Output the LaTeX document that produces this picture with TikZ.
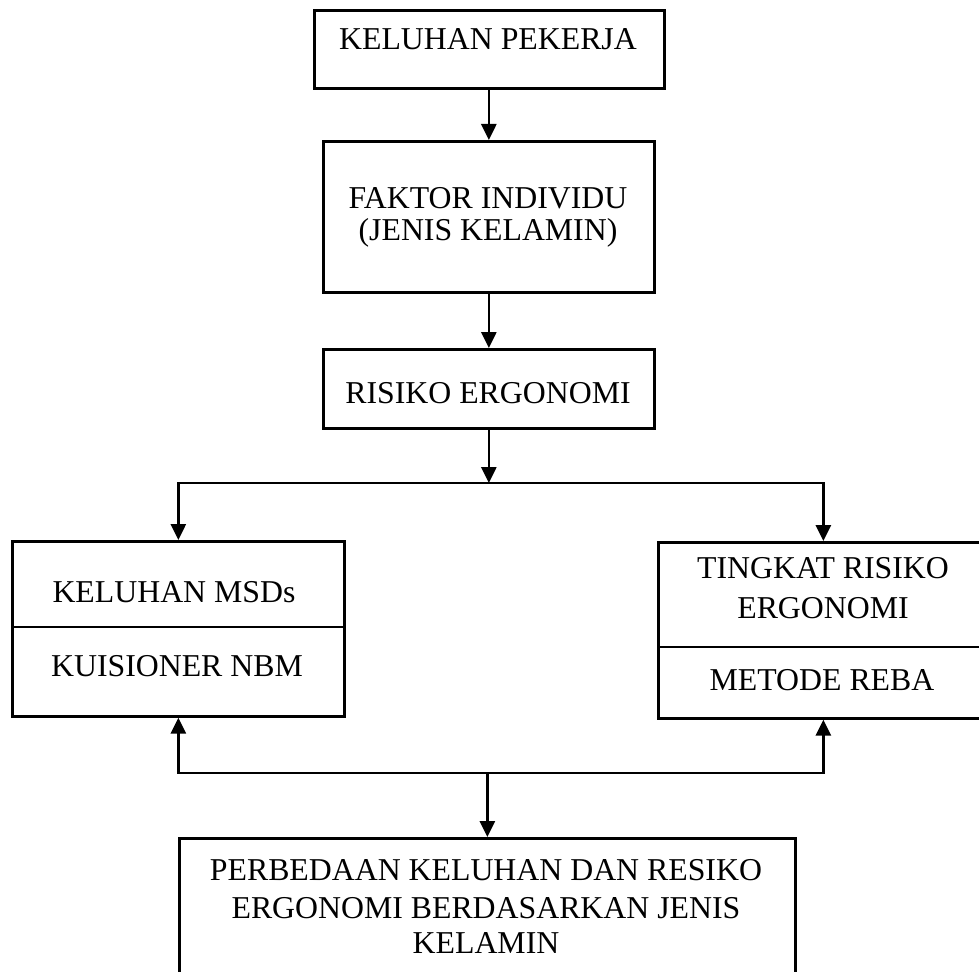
\documentclass[tikz,border=0pt]{standalone}
\usepackage{fontspec}
\setmainfont{Liberation Serif}
\usetikzlibrary{arrows.meta}
\begin{document}
\begin{tikzpicture}[x=1pt,y=-1pt,
  box/.style={draw=black, line width=2.7pt, inner sep=0pt, anchor=north west},
  txt/.style={anchor=base, inner sep=0pt, font=\fontsize{31.8}{37}\selectfont},
  arr/.style={line width=2.7pt, line join=miter, -{Triangle[length=16pt,width=15pt]}},
  divider/.style={line width=2.2pt}]
\useasboundingbox (0,0) rectangle (979,971);
% boxes
\node[box, minimum width=350pt, minimum height=78pt] (b1) at (313,9) {};
\node[box, minimum width=331pt, minimum height=151pt] (b2) at (322,140) {};
\node[box, minimum width=331pt, minimum height=79pt] (b3) at (322,348) {};
\node[box, minimum width=332pt, minimum height=175pt] (lb) at (11,540) {};
\node[box, minimum width=330pt, minimum height=176pt] (rb) at (657,541) {};
\node[box, minimum width=616pt, minimum height=160pt] (bb) at (178,837) {};
% dividers
\draw[divider] (lb.west |- 0,627) -- (lb.east |- 0,627);
\draw[divider] (rb.west |- 0,647) -- (rb.east |- 0,647);
% texts
\node[txt] (t1) at (488,50) {KELUHAN PEKERJA};
\node[txt] (t2a) at (488,208) {FAKTOR INDIVIDU};
\node[txt] (t2b) at (488,240) {(JENIS KELAMIN)};
\node[txt] (t3) at (488,403) {RISIKO ERGONOMI};
\node[txt] (tla) at (174,602) {KELUHAN MSDs};
\node[txt] (tlb) at (177,676) {KUISIONER NBM};
\node[txt] (tra) at (823,578) {TINGKAT RISIKO};
\node[txt] (trb) at (823,618) {ERGONOMI};
\node[txt] (trc) at (822,690) {METODE REBA};
\node[txt] (tba) at (486,880) {PERBEDAAN KELUHAN DAN RESIKO};
\node[txt] (tbb) at (486,918) {ERGONOMI BERDASARKAN JENIS};
\node[txt] (tbc) at (486,953) {KELAMIN};
% junction points
\coordinate (j1) at (b3.south |- 0,483);
\coordinate (j2) at (bb.north |- 0,773);
\coordinate (b1s) at (b2.north |- b1.south);
% connectors
\draw[arr] (b1s) -- (b2.north);
\draw[arr] (b2.south) -- (b3.north);
\draw[arr] (b3.south) -- (j1);
\draw[arr] (j1) -| (lb.north);
\draw[arr] (j1) -| (rb.north);
\draw[arr] (j2) -| (lb.south);
\draw[arr] (j2) -| (rb.south);
\draw[arr] (j2) -- (bb.north);
\end{tikzpicture}
\end{document}
